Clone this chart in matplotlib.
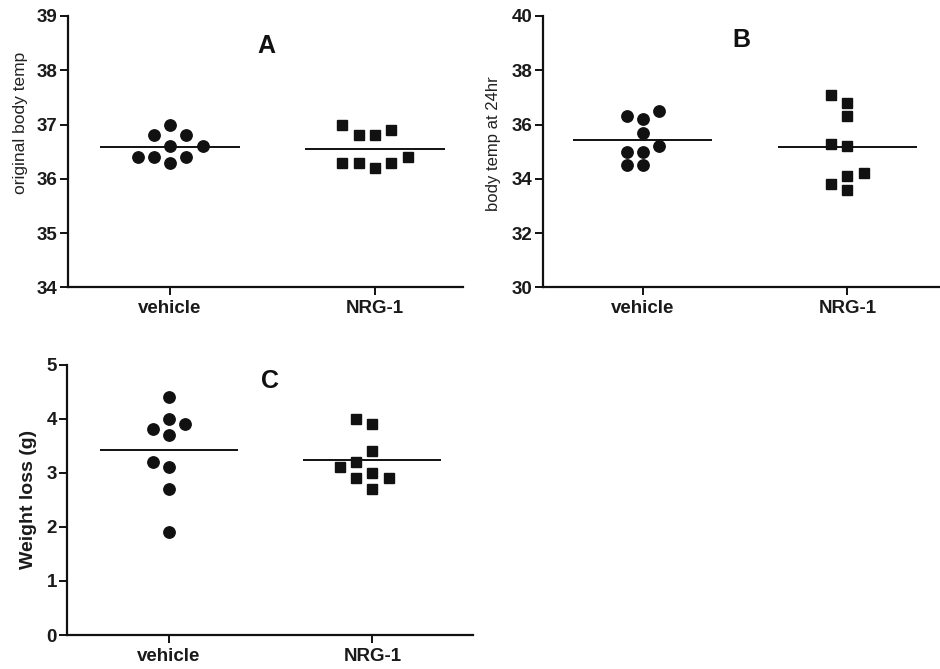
import numpy as np
import matplotlib
matplotlib.use("Agg")
import matplotlib.pyplot as plt

plt.rcParams['font.family'] = ['Liberation Sans', 'DejaVu Sans']

groups = ["vehicle", "NRG-1"]

# Panel A: original body temp
a_vehicle = [36.3, 36.4, 36.4, 36.4, 36.6, 36.6, 36.8, 36.8, 37.0]
a_nrg = [36.2, 36.3, 36.3, 36.3, 36.4, 36.8, 36.8, 36.9, 37.0]

# Panel B: body temp at 24hr
b_vehicle = [34.5, 34.5, 35.0, 35.0, 35.2, 35.7, 36.2, 36.3, 36.5]
b_nrg = [33.6, 33.8, 34.1, 34.2, 35.2, 35.3, 36.3, 36.8, 37.1]

# Panel C: weight loss (g)
c_vehicle = [1.9, 2.7, 3.1, 3.2, 3.7, 3.8, 3.9, 4.0, 4.4]
c_nrg = [2.7, 2.9, 2.9, 3.0, 3.1, 3.2, 3.4, 3.9, 4.0]

W, H = 940, 669
fig = plt.figure(figsize=(W / 100, H / 100), dpi=100)


def px_axes(x0, x1, y0, y1):
    return fig.add_axes([x0 / W, 1 - y1 / H, (x1 - x0) / W, (y1 - y0) / H])


def swarm(ax, center, values, step_px=16.3, diam_px=11.5):
    """Simple beeswarm: place each point in nearest free horizontal slot."""
    vals = np.asarray(values, dtype=float)
    order = np.argsort(vals, kind="stable")
    ypx = ax.transData.transform(np.column_stack([np.zeros_like(vals), vals]))[:, 1]
    x0 = ax.transData.transform((center, 0))[0]
    placed = []  # (slot, ypx)
    xs = np.zeros_like(vals)
    for i in order:
        k = 0
        cand = [0]
        for n in range(1, 20):
            cand += [-n, n]
        for s in cand:
            if all(not (ps == s and abs(py - ypx[i]) < diam_px) for ps, py in placed):
                k = s
                break
        placed.append((k, ypx[i]))
        xpx = x0 + k * step_px
        xs[i] = ax.transData.inverted().transform((xpx, ypx[i]))[0]
    return xs, vals


def style(ax, ylim, yticks, xlim):
    ax.set_xlim(*xlim)
    ax.set_ylim(*ylim)
    ax.set_yticks(yticks)
    ax.set_xticks([0, 1])
    ax.set_xticklabels(groups)
    for s in ["top", "right"]:
        ax.spines[s].set_visible(False)
    for s in ["left", "bottom"]:
        ax.spines[s].set_linewidth(1.6)
        ax.spines[s].set_color("#111111")
    ax.tick_params(axis="both", direction="out", length=5.5, width=1.4,
                   color="#111111", labelsize=13.5, labelcolor="#1a1a1a")
    ax.tick_params(axis="y", pad=2)
    ax.tick_params(axis="x", pad=4)
    for lab in ax.get_xticklabels() + ax.get_yticklabels():
        lab.set_fontweight("bold")


def draw(ax, series):
    for center, (vals, marker) in enumerate(series):
        xs, ys = swarm(ax, center, vals)
        ax.plot(xs, ys, linestyle="none", marker=marker, markersize=8.2 if marker == "o" else 7.8,
                color="#111111", zorder=3, clip_on=False)
        m = np.mean(vals)
        ax.hlines(m, center - 0.34, center + 0.34, color="#111111", linewidth=1.4, zorder=2)


# Panel A
axA = px_axes(67.7, 463, 16, 287.3)
style(axA, (34, 39), [34, 35, 36, 37, 38, 39], (-0.5, 1.43))
draw(axA, [(a_vehicle, "o"), (a_nrg, "s")])
axA.set_ylabel("original body temp", fontsize=12.5, color="#222222")
axA.yaxis.set_label_coords(-0.0997, 0.606)
axA.text(0.502, 0.889, "A", transform=axA.transAxes, ha="center", va="center",
         fontsize=18, fontweight="bold", color="#111111")

# Panel B
axB = px_axes(542.7, 940, 16, 287.3)
style(axB, (30, 40), [30, 32, 34, 36, 38, 40], (-0.49, 1.453))
draw(axB, [(b_vehicle, "o"), (b_nrg, "s")])
axB.set_ylabel("body temp at 24hr", fontsize=12, color="#222222")
axB.yaxis.set_label_coords(-0.1057, 0.528)
axB.text(0.499, 0.912, "B", transform=axB.transAxes, ha="center", va="center",
         fontsize=18, fontweight="bold", color="#111111")

# Panel C
axC = px_axes(67.3, 473, 364.5, 635)
style(axC, (0, 5), [0, 1, 2, 3, 4, 5], (-0.5, 1.495))
draw(axC, [(c_vehicle, "o"), (c_nrg, "s")])
axC.set_ylabel("Weight loss (g)", fontsize=14, fontweight="bold", color="#1a1a1a")
axC.yaxis.set_label_coords(-0.074, 0.5)
axC.text(0.5, 0.94, "C", transform=axC.transAxes, ha="center", va="center",
         fontsize=18, fontweight="bold", color="#111111")

fig.savefig("out.png", dpi=100, facecolor="white")
